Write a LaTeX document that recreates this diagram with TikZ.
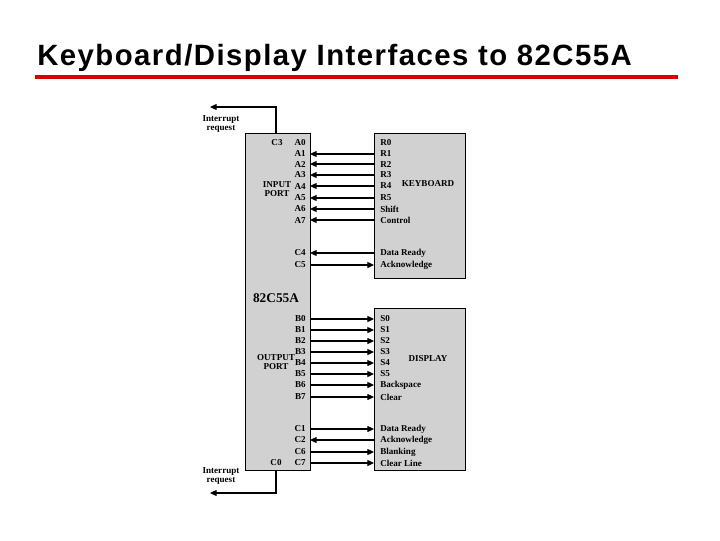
\documentclass[tikz,border=0pt]{standalone}
\usepackage{fontspec}
\setmainfont{Liberation Serif}
\newfontfamily\titlefont[LetterSpace=5]{Liberation Sans}
\usetikzlibrary{arrows.meta}
\begin{document}
\begin{tikzpicture}[x=0.75pt,y=-0.75pt,
  box/.style={draw,line width=0.8pt,fill=black!18},
  lbl/.style={font=\bfseries\fontsize{6.8}{7.2}\selectfont,inner sep=0pt},
  sig/.style={line width=0.9pt,-{Triangle[length=5pt,width=4.5pt]}}]
\useasboundingbox (0,0) rectangle (720,540);
\node[anchor=west,font=\titlefont\bfseries\fontsize{22}{24}\selectfont,inner sep=0pt] (title) at (37,58) {Keyboard/Display Interfaces to 82C55A};
\draw[line width=3pt,red!85!black] (35,77) coordinate (ra) -- (678,77) coordinate (rb);
\node[box,minimum width=65*0.75pt,minimum height=337*0.75pt,anchor=north west,inner sep=0pt] (chip) at (245,133) {};
\node[box,minimum width=91*0.75pt,minimum height=145*0.75pt,anchor=north west,inner sep=0pt] (kb) at (374,133) {};
\node[box,minimum width=91*0.75pt,minimum height=162*0.75pt,anchor=north west,inner sep=0pt] (dp) at (374,308) {};
\node[lbl] (kbl) at (428,184) {KEYBOARD};
\node[lbl] (dpl) at (428,359) {DISPLAY};
\foreach \n/\y/\p/\r/\d in {0/143/A0/R0/n,1/154/A1/R1/l,2/164/A2/R2/l,3/175/A3/R3/l,4/186/A4/R4/l,5/198/A5/R5/l,6/209/A6/Shift/l,7/220/A7/Control/l,8/253/C4/Data Ready/l,9/265/C5/Acknowledge/r}{
  \node[lbl,anchor=east] (kp\n) at (306,\y) {\p};
  \node[lbl,anchor=west] (kr\n) at (380,\y) {\r};
  \coordinate (kl\n) at (310,\y); \coordinate (kk\n) at (374,\y);
  \if\d l \draw[sig] (kk\n) -- (kl\n); \fi
  \if\d r \draw[sig] (kl\n) -- (kk\n); \fi
}
\foreach \n/\y/\p/\r/\d in {0/319/B0/S0/r,1/330/B1/S1/r,2/341/B2/S2/r,3/352/B3/S3/r,4/363/B4/S4/r,5/374/B5/S5/r,6/385/B6/Backspace/r,7/397/B7/Clear/r,8/429/C1/Data Ready/r,9/440/C2/Acknowledge/l,10/452/C6/Blanking/r,11/463/C7/Clear Line/r}{
  \node[lbl,anchor=east] (dpp\n) at (306,\y) {\p};
  \node[lbl,anchor=west] (dr\n) at (380,\y) {\r};
  \coordinate (dl\n) at (310,\y); \coordinate (dk\n) at (374,\y);
  \if\d l \draw[sig] (dk\n) -- (dl\n); \fi
  \if\d r \draw[sig] (dl\n) -- (dk\n); \fi
}
\node[lbl] (c3) at (277,143) {C3};
\node[lbl] (c0) at (276,463) {C0};
\node[lbl,align=center] (inp) at (277,189) {INPUT\\PORT};
\node[lbl,align=center] (outp) at (276,362) {OUTPUT\\PORT};
\node[font=\bfseries\fontsize{10}{11}\selectfont,inner sep=0pt] (name) at (276,298) {82C55A};
\coordinate (it) at (276,133); \coordinate (ib) at (276,470);
\draw[sig] (it) -- (276,107) -- (210,107) coordinate (ite);
\draw[sig] (ib) -- (276,493) -- (210,493) coordinate (ibe);
\node[lbl,align=center] (irt) at (221,124) {Interrupt\\request};
\node[lbl,align=center] (irb) at (221,476) {Interrupt\\request};
\end{tikzpicture}
\end{document}
